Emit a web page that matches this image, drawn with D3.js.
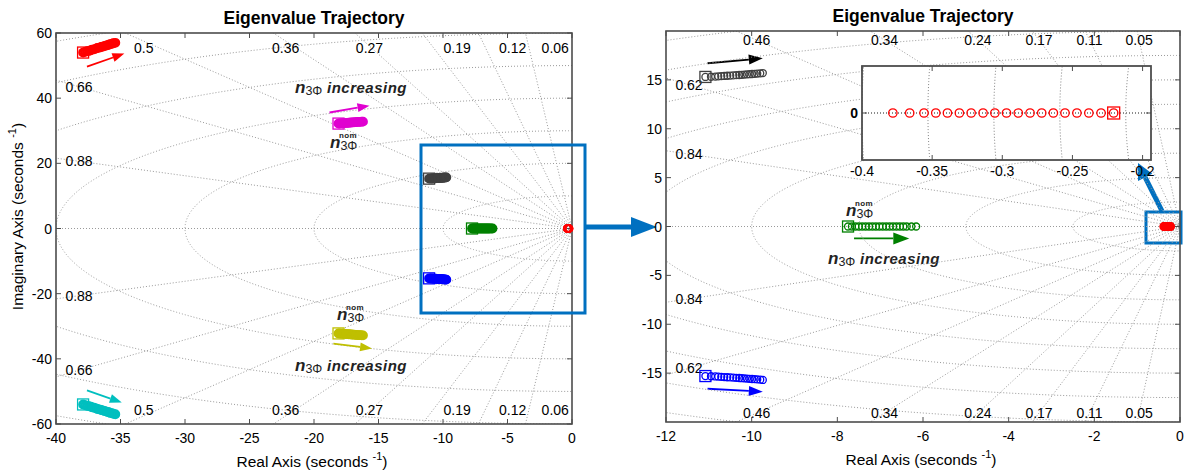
<!DOCTYPE html>
<html>
<head>
<meta charset="utf-8">
<script src="https://cdn.jsdelivr.net/npm/d3@7"></script>
<style>
  body { margin: 0; background: #fff; }
  svg { display: block; font-family: "Liberation Sans", Arial, sans-serif; }
</style>
</head>
<body>
<svg id="chart" width="1192" height="470"></svg>
<script>
// ---- data ----
const leftXTicks = [-40, -35, -30, -25, -20, -15, -10, -5, 0];
const leftYTicks = [-60, -40, -20, 0, 20, 40, 60];
const rightXTicks = [-12, -10, -8, -6, -4, -2, 0];
const rightYTicks = [-15, -10, -5, 0, 5, 10, 15];
const insetXTicks = [-0.4, -0.35, -0.3, -0.25, -0.2];
const insetYTicks = [0];

const leftZeta = [0.06, 0.12, 0.19, 0.27, 0.36, 0.5, 0.66, 0.88];
const rightZeta = [0.05, 0.11, 0.17, 0.24, 0.34, 0.46, 0.62, 0.84];
const leftWn = [10, 20, 30, 40, 50, 60, 70];
const rightWn = [2.5, 5, 7.5, 10, 12.5, 15, 17.5, 20, 22.5];
const insetWn = [0.212, 0.259, 0.306, 0.353, 0.4];

// eigenvalue trajectories, first point = nominal n3phi
const mode1Re = [-37.9, -37.75, -37.6, -37.45, -37.3, -37.2, -37.05, -36.9, -36.8, -36.65, -36.5, -36.4, -36.25, -36.15, -36.0, -35.9, -35.8, -35.65, -35.55, -35.4];
const mode1Im = [54.0, 54.2, 54.4, 54.5, 54.7, 54.9, 55.0, 55.2, 55.4, 55.5, 55.7, 55.8, 56.0, 56.1, 56.3, 56.4, 56.6, 56.7, 56.9, 57.0];
const mode2Re = [-18.1, -18.0, -17.9, -17.8, -17.7, -17.6, -17.5, -17.4, -17.3, -17.2, -17.1, -17.0, -16.9, -16.8, -16.7, -16.6, -16.5, -16.4, -16.3, -16.2];
const mode2Im = [32.2, 32.23, 32.26, 32.3, 32.33, 32.36, 32.4, 32.43, 32.46, 32.5, 32.53, 32.56, 32.6, 32.63, 32.66, 32.7, 32.72, 32.75, 32.78, 32.8];
const mode3Re = [-11.08, -10.95, -10.85, -10.78, -10.71, -10.64, -10.57, -10.5, -10.43, -10.36, -10.29, -10.23, -10.17, -10.11, -10.05, -9.99, -9.93, -9.87, -9.8, -9.74];
const mode3Im = [15.3, 15.32, 15.34, 15.36, 15.38, 15.4, 15.42, 15.44, 15.46, 15.48, 15.5, 15.52, 15.54, 15.56, 15.58, 15.6, 15.62, 15.64, 15.67, 15.7];
const mode4Re = [-7.75, -7.66, -7.58, -7.5, -7.42, -7.34, -7.26, -7.18, -7.1, -7.02, -6.94, -6.86, -6.78, -6.7, -6.62, -6.54, -6.46, -6.38, -6.27, -6.16];
const mode5Re = [-0.2206, -0.2296, -0.2383, -0.2468, -0.2553, -0.2636, -0.2719, -0.2802, -0.2886, -0.2970, -0.3053, -0.3137, -0.3222, -0.3306, -0.3391, -0.3474, -0.3558, -0.3660, -0.3780];

const colors = {
  m1: "#ff0000", m1c: "#00bfbf",
  m2: "#e000d0", m2c: "#bfbf00",
  m3: "#404040", m3c: "#0000ff",
  m4: "#008000", m5: "#ff0000",
  callout: "#0070c0", grid: "#9a9a9a", axis: "#4d4d4d", text: "#222"
};

const svg = d3.select("#chart");
let clipId = 0;

function modeSet(re, im, color) {
  return re.map((r, i) => ({ re: r, im: im ? im[i] : 0, color }));
}
function conj(pts, color) {
  return pts.map(p => ({ re: p.re, im: -p.im, color }));
}

const m1 = modeSet(mode1Re, mode1Im, colors.m1);
const m1c = conj(m1, colors.m1c);
const m2 = modeSet(mode2Re, mode2Im, colors.m2);
const m2c = conj(m2, colors.m2c);
const m3 = modeSet(mode3Re, mode3Im, colors.m3);
const m3c = conj(m3, colors.m3c);
const m4 = modeSet(mode4Re, null, colors.m4);
const m5 = modeSet(mode5Re, null, colors.m5);

function supLabel(g, x, y, base, transform) {
  const t = g.append("text").attr("x", x).attr("y", y)
    .attr("text-anchor", "middle").attr("font-size", 15.5);
  if (transform) t.attr("transform", transform);
  t.append("tspan").text(base + " (seconds ");
  t.append("tspan").attr("font-size", 11).attr("dy", -7).text("-1");
  t.append("tspan").attr("dy", 7).text(")");
}

function panel(cfg) {
  const g = svg.append("g");
  const x = d3.scaleLinear().domain(cfg.xDomain).range([cfg.left, cfg.right]);
  const y = d3.scaleLinear().domain(cfg.yDomain).range([cfg.bottom, cfg.top]);
  const id = "clip" + (clipId++);
  svg.append("clipPath").attr("id", id).append("rect")
    .attr("x", cfg.left).attr("y", cfg.top)
    .attr("width", cfg.right - cfg.left).attr("height", cfg.bottom - cfg.top);

  if (cfg.background) {
    g.append("rect").attr("x", cfg.left).attr("y", cfg.top)
      .attr("width", cfg.right - cfg.left).attr("height", cfg.bottom - cfg.top)
      .attr("fill", "#fff");
  }

  const grid = g.append("g").attr("clip-path", `url(#${id})`)
    .attr("fill", "none").attr("stroke", cfg.gridColor || colors.grid)
    .attr("stroke-width", 1).attr("stroke-dasharray", "1,2");

  // natural frequency circles
  const line = d3.line().x(d => x(d[0])).y(d => y(d[1]));
  cfg.wn.forEach(w => {
    const pts = d3.range(0, 721).map(k => {
      const a = Math.PI / 2 + k * Math.PI / 720;
      return [w * Math.cos(a), w * Math.sin(a)];
    });
    grid.append("path").attr("d", line(pts));
  });
  // damping rays
  const far = 1e3;
  (cfg.zeta || []).forEach(z => {
    const s = Math.sqrt(1 - z * z);
    grid.append("path").attr("d", line([[-z * far, s * far], [0, 0], [-z * far, -s * far]]));
  });
  grid.append("path").attr("d", line([[cfg.xDomain[0], 0], [0, 0]]))
    .attr("stroke", cfg.axisLine || colors.grid)
    .attr("stroke-width", cfg.axisLineWidth || 1)
    .attr("stroke-dasharray", cfg.axisLineWidth ? null : "1,2");

  // damping labels near the box edge
  if (cfg.zetaLabels) {
    const lab = g.append("g").attr("font-size", 14).attr("fill", "#000")
      .attr("text-anchor", "middle");
    const yLab = y.invert(cfg.top + cfg.labTop);
    const xLab = x.invert(cfg.left + 23);
    cfg.zeta.forEach((z, i) => {
      const t = Math.tan(Math.acos(z));
      const reTop = cfg.labelRe && cfg.labelRe[i] != null ? cfg.labelRe[i] : -yLab / t;
      [1, -1].forEach(sgn => {
        if (reTop > cfg.xDomain[0] + (cfg.xDomain[1] - cfg.xDomain[0]) / 10) {
          lab.append("text").attr("x", x(reTop))
            .attr("y", sgn > 0 ? cfg.top + cfg.labTop + 5 : cfg.bottom - cfg.labTop + 5)
            .text(z);
        } else {
          const im = -xLab * t;
          lab.append("text").attr("x", cfg.left + 23)
            .attr("y", y(sgn * im) + 5).text(z);
        }
      });
    });
  }

  // markers
  const marks = g.append("g").attr("clip-path", `url(#${id})`).attr("fill", "none");
  cfg.modes.forEach(pts => {
    marks.append("g").selectAll("circle").data(pts).join("circle")
      .attr("cx", d => x(d.re)).attr("cy", d => y(d.im))
      .attr("r", cfg.r).attr("stroke", d => d.color)
      .attr("stroke-width", cfg.sw);
    const p0 = pts[0];
    marks.append("rect")
      .attr("x", x(p0.re) - cfg.sq / 2).attr("y", y(p0.im) - cfg.sq / 2)
      .attr("width", cfg.sq).attr("height", cfg.sq)
      .attr("stroke", p0.color).attr("stroke-width", 1.3);
  });

  // axes (inward ticks, box)
  const tl = 5;
  const ax = g.append("g").attr("stroke", colors.axis).attr("fill", "none");
  ax.append("rect").attr("x", cfg.left).attr("y", cfg.top)
    .attr("width", cfg.right - cfg.left).attr("height", cfg.bottom - cfg.top)
    .attr("stroke-width", cfg.boxWidth || 1.6);
  cfg.xTicks.forEach(v => {
    ax.append("line").attr("x1", x(v)).attr("x2", x(v)).attr("y1", cfg.bottom).attr("y2", cfg.bottom - tl);
    ax.append("line").attr("x1", x(v)).attr("x2", x(v)).attr("y1", cfg.top).attr("y2", cfg.top + tl);
  });
  cfg.yTicks.forEach(v => {
    ax.append("line").attr("y1", y(v)).attr("y2", y(v)).attr("x1", cfg.left).attr("x2", cfg.left + tl);
    ax.append("line").attr("y1", y(v)).attr("y2", y(v)).attr("x1", cfg.right).attr("x2", cfg.right - tl);
  });
  const tk = g.append("g").attr("font-size", 14).attr("fill", "#000");
  tk.selectAll(".xt").data(cfg.xTicks).join("text")
    .attr("x", d => x(d)).attr("y", cfg.bottom + (cfg.xTickGap || 19)).attr("text-anchor", "middle")
    .text(d => d);
  tk.selectAll(".yt").data(cfg.yTicks).join("text")
    .attr("x", cfg.left - 4).attr("y", d => y(d) + 5).attr("text-anchor", "end")
    .attr("font-weight", cfg.yTickBold ? "bold" : null)
    .text(d => d);

  if (cfg.title) {
    g.append("text").attr("x", (cfg.left + cfg.right) / 2).attr("y", cfg.top - 9)
      .attr("text-anchor", "middle").attr("font-size", 17.5).attr("font-weight", "bold")
      .text(cfg.title);
  }
  if (cfg.xLabel) supLabel(g, (cfg.left + cfg.right) / 2 - 2, cfg.bottom + 43, "Real Axis");
  if (cfg.yLabel) {
    supLabel(g, 0, 0, "Imaginary Axis",
      `translate(${cfg.left - 33},${(cfg.top + cfg.bottom) / 2 - 12}) rotate(-90)`);
  }
  return { x, y, g };
}

function arrow(p, x0, y0, x1, y1, color, w, head, hw) {
  const ang = Math.atan2(y1 - y0, x1 - x0);
  const bx = x1 - head * Math.cos(ang), by = y1 - head * Math.sin(ang);
  p.append("line").attr("x1", x0).attr("y1", y0).attr("x2", bx).attr("y2", by)
    .attr("stroke", color).attr("stroke-width", w);
  const nx = -Math.sin(ang) * hw, ny = Math.cos(ang) * hw;
  p.append("path")
    .attr("d", `M${x1},${y1}L${bx + nx},${by + ny}L${bx - nx},${by - ny}Z`)
    .attr("fill", color);
}

// "n_3Φ increasing" text, left edge + baseline
function nIncreasing(p, lx, by) {
  const t = p.append("text").attr("x", lx).attr("y", by).attr("fill", colors.text);
  t.append("tspan").attr("font-size", 17).attr("font-weight", "bold")
    .attr("font-style", "italic").text("n");
  t.append("tspan").attr("font-size", 12.5).attr("dy", 2).text("3Φ");
  t.append("tspan").attr("font-size", 15).attr("dy", -2).attr("font-weight", "bold")
    .attr("font-style", "italic").attr("letter-spacing", 0.5).text(" increasing");
}
// "n_3Φ^nom" text
function nNom(p, lx, by) {
  const t = p.append("text").attr("x", lx).attr("y", by).attr("fill", colors.text);
  t.append("tspan").attr("font-size", 17).attr("font-weight", "bold")
    .attr("font-style", "italic").text("n");
  t.append("tspan").attr("font-size", 12.5).attr("dy", 2).text("3Φ");
  p.append("text").attr("x", lx + 9).attr("y", by - 10).attr("fill", colors.text)
    .attr("font-size", 8).attr("font-weight", "bold").attr("letter-spacing", 0.4).text("nom");
}

// ---- left panel ----
const L = panel({
  left: 56, right: 572, top: 33, bottom: 424,
  xDomain: [-40, 0], yDomain: [-60, 60],
  xTicks: leftXTicks, yTicks: leftYTicks,
  zeta: leftZeta, wn: leftWn, zetaLabels: true, labTop: 14.5,
  labelRe: [-1.3, -4.6, -8.9, -15.7, -22.2, -33.2],
  modes: [m1, m1c, m2, m2c, m3, m3c, m4],
  r: 3.6, sw: 2.6, sq: 11,
  title: "Eigenvalue Trajectory", xLabel: true, yLabel: true
});
// red cluster near the origin on the left
L.g.append("g").selectAll("circle").data(m5).join("circle")
  .attr("cx", d => L.x(d.re)).attr("cy", d => L.y(d.im)).attr("r", 3.5)
  .attr("fill", "none").attr("stroke", colors.m5).attr("stroke-width", 1.6);

const ann = svg.append("g");
arrow(ann, L.x(-37.6), L.y(49.7), L.x(-34.7), L.y(53.7), colors.m1, 1.8, 12, 4.5);
arrow(ann, L.x(-18.8), L.y(35.6), L.x(-15.7), L.y(37.7), colors.m2, 1.8, 12, 4.5);
arrow(ann, L.x(-18.5), L.y(-35.3), L.x(-15.5), L.y(-36.8), colors.m2c, 1.8, 12, 4.5);
arrow(ann, L.x(-37.6), L.y(-49.7), L.x(-34.9), L.y(-53.4), colors.m1c, 1.8, 12, 4.5);
nIncreasing(ann, 295, 93);
nNom(ann, 330, 148);
nNom(ann, 337, 320);
nIncreasing(ann, 295, 371);

// zoom box on the left
ann.append("rect").attr("x", 421).attr("y", 145).attr("width", 164).attr("height", 168)
  .attr("fill", "none").attr("stroke", colors.callout).attr("stroke-width", 3);

// ---- right panel ----
const R = panel({
  left: 666, right: 1180, top: 31, bottom: 422,
  xDomain: [-12, 0], yDomain: [-20, 20],
  xTicks: rightXTicks, yTicks: rightYTicks,
  zeta: rightZeta, wn: rightWn, zetaLabels: true, labTop: 9,
  modes: [m3, m3c, m4],
  r: 3.5, sw: 1.3, sq: 11,
  title: "Eigenvalue Trajectory", xLabel: true
});
R.g.append("g").selectAll("circle").data(m5).join("circle")
  .attr("cx", d => R.x(d.re)).attr("cy", d => R.y(d.im)).attr("r", 3.5)
  .attr("fill", colors.m5).attr("stroke", colors.m5).attr("stroke-width", 2);

arrow(ann, R.x(-11.03), R.y(16.7), R.x(-9.74), R.y(17.2), "#000", 1.8, 14, 5);
arrow(ann, R.x(-11.03), R.y(-16.6), R.x(-9.74), R.y(-16.9), colors.m3c, 1.8, 14, 5);
arrow(ann, R.x(-7.61), R.y(-1.22), R.x(-6.32), R.y(-1.22), colors.m4, 1.8, 16, 6);
nNom(ann, 846, 216);
nIncreasing(ann, 828, 264);

// ---- inset ----
const I = panel({
  left: 862, right: 1151, top: 66, bottom: 160,
  xDomain: [-0.4, -0.194], yDomain: [-0.03, 0.03],
  xTicks: insetXTicks, yTicks: insetYTicks, yTickBold: true, xTickGap: 16,
  wn: insetWn, gridColor: "#808080", axisLine: "#8c8c8c", axisLineWidth: 2.2,
  modes: [m5], r: 4.2, sw: 1.3, sq: 12, background: true, boxWidth: 1.8
});
arrow(ann, I.x(-0.247), I.y(-0.0064), I.x(-0.354), I.y(-0.0064), colors.m5, 2, 16, 6);
nNom(ann, 1115, 107);
nIncreasing(ann, 957, 144);

// callout arrows
arrow(ann, 585, 227, 657, 227, colors.callout, 5, 26, 10);
ann.append("rect").attr("x", 1146).attr("y", 212).attr("width", 35).attr("height", 31)
  .attr("fill", "none").attr("stroke", colors.callout).attr("stroke-width", 3);
arrow(ann, 1162, 211, 1138, 163, colors.callout, 5, 16, 8);
</script>
</body>
</html>
